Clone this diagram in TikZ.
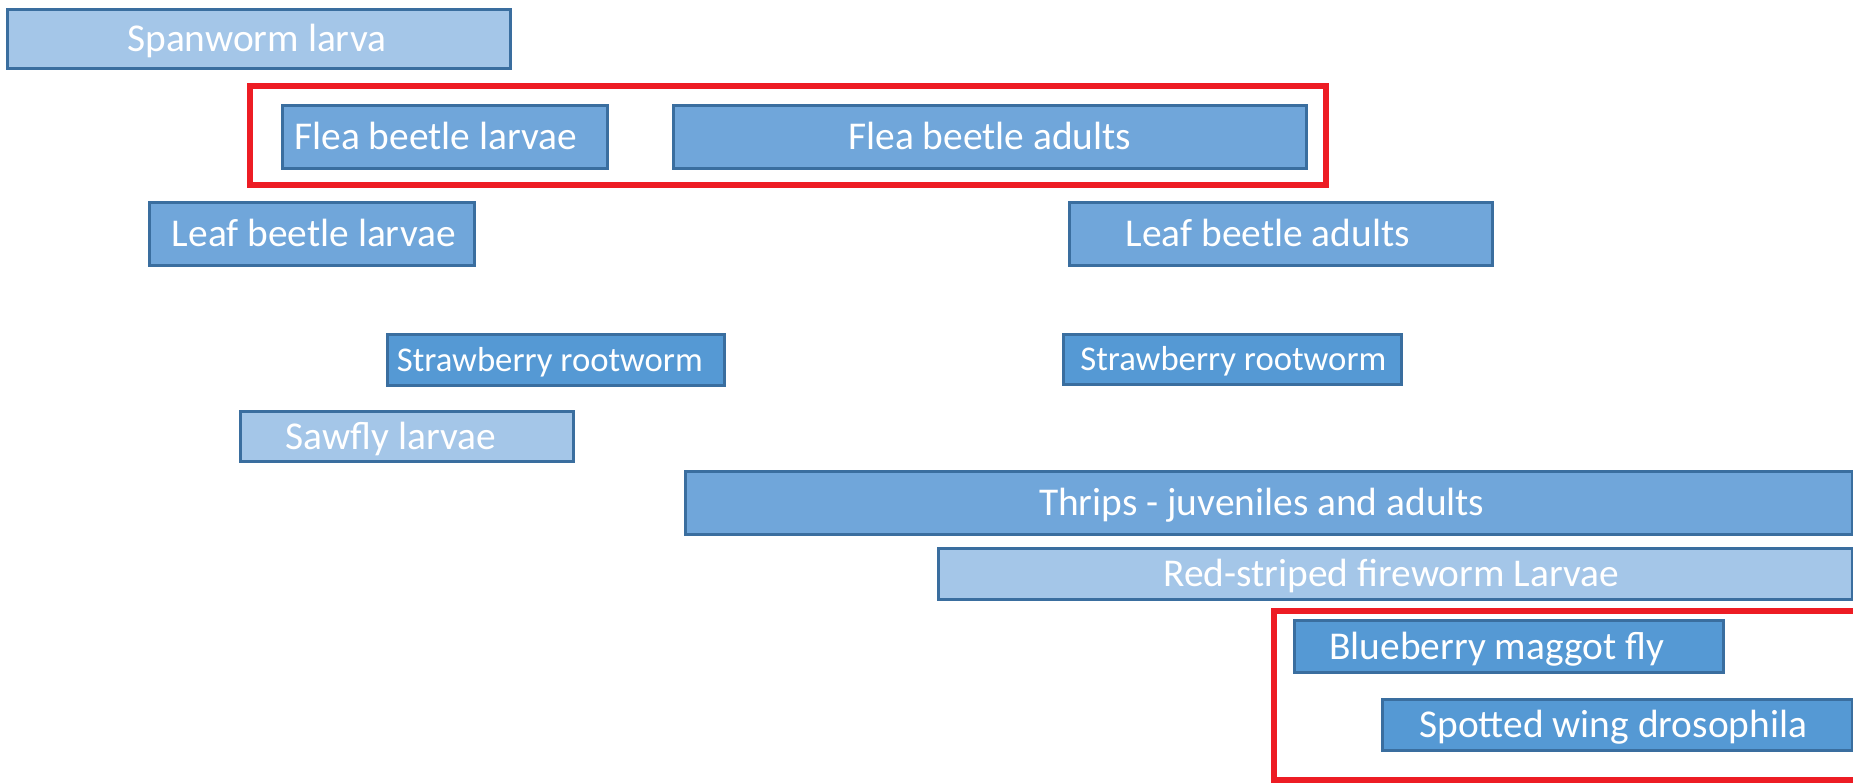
\documentclass[tikz,border=0pt]{standalone}
\usepackage{fontspec}
\setmainfont{Carlito}
\definecolor{barlight}{HTML}{A4C6E8}
\definecolor{barmid}{HTML}{70A6DA}
\definecolor{bardark}{HTML}{5599D4}
\definecolor{barline}{HTML}{3A6E9F}
\definecolor{groupred}{HTML}{ED1C24}
\tikzset{
  bar/.style={draw=barline, line width=2.6pt, inner sep=0pt, anchor=north west},
  lightbar/.style={bar, fill=barlight},
  midbar/.style={bar, fill=barmid},
  darkbar/.style={bar, fill=bardark},
  lbl/.style={text=white, inner sep=0pt, text height=29.5pt, text depth=3.9pt,
              font=\fontsize{39.4}{47}\selectfont},
  smalllbl/.style={lbl, text height=26pt, text depth=3pt,
                   font=\fontsize{34.7}{42}\selectfont},
  group/.style={draw=groupred, line width=5.5pt},
}
% \pestbar{name}{style}{x1}{y1}{x2}{y2}
\newcommand{\pestbar}[6]{%
  \node[#2, minimum width={(#5-#3)*1pt}, minimum height={(#6-#4)*1pt}] (#1) at (#3,#4) {};}
\begin{document}
\begin{tikzpicture}[x=1pt,y=-1pt]
\useasboundingbox (0,0) rectangle (1853,784);
\fill[white] (0,0) rectangle (1853,784);
\clip (0,0) rectangle (1853,784);

% grouping frames
\draw[group] (250,86) rectangle (1326,185);
\draw[group] (1274,611) rectangle (1870,780);

% bars
\pestbar{span}{lightbar}{6}{8}{509}{67}
\pestbar{flealarv}{midbar}{281}{104}{606}{167}
\pestbar{fleaad}{midbar}{672}{104}{1305}{167}
\pestbar{leaflarv}{midbar}{148}{201}{473}{264}
\pestbar{leafad}{midbar}{1068}{201}{1491}{264}
\pestbar{srootA}{darkbar}{386}{333}{723}{384}
\pestbar{srootB}{darkbar}{1062}{333}{1400}{383}
\pestbar{sawfly}{lightbar}{239}{410}{572}{460}
\pestbar{thrips}{midbar}{684}{470}{1851}{533}
\pestbar{firew}{lightbar}{937}{547}{1851}{598}
\pestbar{maggot}{darkbar}{1293}{619}{1722}{671}
\pestbar{swd}{darkbar}{1381}{698}{1851}{749}

% labels
\node[lbl] at ([xshift=-2pt]span.center) {Spanworm larva};
\node[lbl] at ([xshift=-9pt]flealarv.center) {Flea beetle larvae};
\node[lbl] at (fleaad.center) {Flea beetle adults};
\node[lbl] at ([xshift=2pt]leaflarv.center) {Leaf beetle larvae};
\node[lbl] at ([xshift=-13pt]leafad.center) {Leaf beetle adults};
\node[smalllbl] at ([xshift=-6pt]srootA.center) {Strawberry rootworm};
\node[smalllbl] at ([xshift=1pt]srootB.center) {Strawberry rootworm};
\node[lbl] at ([xshift=-16pt]sawfly.center) {Sawfly larvae};
\node[lbl] at ([xshift=-7pt]thrips.center) {Thrips - juveniles and adults};
\node[lbl] at ([xshift=-4pt]firew.center) {Red-striped fireworm Larvae};
\node[lbl] at ([xshift=-12pt]maggot.center) {Blueberry maggot fly};
\node[lbl] at ([xshift=-4pt]swd.center) {Spotted wing drosophila};
\end{tikzpicture}
\end{document}
